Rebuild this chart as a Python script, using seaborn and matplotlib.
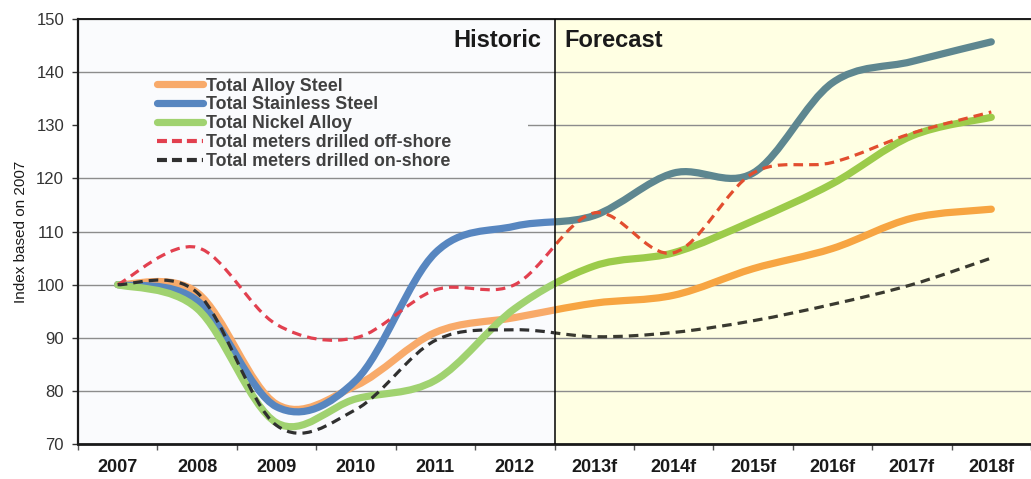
#!/usr/bin/env python3
"""Index of alloy / stainless / nickel demand vs. meters drilled, 2007 = 100."""

import matplotlib

matplotlib.use("Agg")
import matplotlib.pyplot as plt
import numpy as np
import pandas as pd
import seaborn as sns
from matplotlib.lines import Line2D
from matplotlib.patches import PathPatch, Rectangle
from matplotlib.path import Path

YEARS = ["2007", "2008", "2009", "2010", "2011", "2012",
         "2013f", "2014f", "2015f", "2016f", "2017f", "2018f"]
N_HISTORIC = 6

ALLOY_STEEL = [100, 98.5, 77.5, 81, 91, 93.8, 96.5, 98, 103, 106.8, 112.5, 114.2]
STAINLESS_STEEL = [100, 97, 77, 82, 106, 111, 113, 121, 121, 138, 142, 145.7]
NICKEL_ALLOY = [100, 95.5, 74, 78.5, 82, 95.5, 103.5, 106, 112, 119, 128, 131.5]
OFFSHORE = [100, 107, 92.5, 90, 99, 100, 113.5, 106, 121, 123, 128.5, 132.5]
ONSHORE = [100, 98.5, 73.5, 76.5, 89.5, 91.5, 90.2, 91, 93.2, 96.3, 100, 105]

SERIES = [
    ("Total Alloy Steel", ALLOY_STEEL),
    ("Total Stainless Steel", STAINLESS_STEEL),
    ("Total Nickel Alloy", NICKEL_ALLOY),
    ("Total meters drilled off-shore", OFFSHORE),
    ("Total meters drilled on-shore", ONSHORE),
]

# (historic colour, forecast colour, dashed)
STYLES = {
    "Total Alloy Steel": ("#F8AA6A", "#F7A542", False),
    "Total Stainless Steel": ("#5786C0", "#5E8790", False),
    "Total Nickel Alloy": ("#A0D270", "#9CCB4A", False),
    "Total meters drilled off-shore": ("#E2404F", "#E24E2F", True),
    "Total meters drilled on-shore": ("#303030", "#3A3A30", True),
}

HIST_BG = "#FAFBFD"
FORE_BG = "#FFFFE3"


def smooth_path(x, y):
    """Excel-like smoothed line as a cubic Bezier path through the points."""
    pts = np.column_stack([x, y]).astype(float)
    n = len(pts)
    verts = [pts[0]]
    codes = [Path.MOVETO]
    for i in range(n - 1):
        p0 = pts[max(i - 1, 0)]
        p1 = pts[i]
        p2 = pts[i + 1]
        p3 = pts[min(i + 2, n - 1)]
        verts += [p1 + (p2 - p0) / 6, p2 - (p3 - p1) / 6, p2]
        codes += [Path.CURVE4] * 3
    return Path(verts, codes)


def main():
    df = pd.DataFrame(
        [(name, i, v) for name, vals in SERIES for i, v in enumerate(vals)],
        columns=["series", "pos", "value"],
    )

    sns.set_theme(style="white")
    plt.rcParams["font.family"] = ["Liberation Sans", "DejaVu Sans"]

    fig = plt.figure(figsize=(10.31, 4.79), dpi=100)
    ax = fig.add_axes([78 / 1031, 35 / 479, 953 / 1031, 425 / 479])

    ax.set_xlim(-0.5, len(YEARS) - 0.5)
    ax.set_ylim(70, 150)

    # two shaded periods
    ax.axvspan(-0.5, N_HISTORIC - 0.5, color=HIST_BG, zorder=0)
    ax.axvspan(N_HISTORIC - 0.5, len(YEARS) - 0.5, color=FORE_BG, zorder=0)

    ax.set_yticks(range(70, 151, 10))
    ax.yaxis.grid(True, color="#8C8C8C", linewidth=1.0, zorder=1)
    ax.set_axisbelow(True)

    # blank patch behind the legend (hides the 130 gridline there)
    ax.add_patch(Rectangle((-0.5, 120.6), 5.67, 18.8, facecolor=HIST_BG,
                           edgecolor="none", zorder=1.5))

    hist_clip = Rectangle((-1, 0), N_HISTORIC - 0.5 + 1, 300,
                          transform=ax.transData)
    fore_clip = Rectangle((N_HISTORIC - 0.5, 0), 20, 300,
                          transform=ax.transData)

    handles = []
    for name, grp in df.groupby("series", sort=False):
        hist_c, fore_c, dashed = STYLES[name]
        path = smooth_path(grp["pos"].to_numpy(), grp["value"].to_numpy())
        if dashed:
            kw = dict(linewidth=2.3, linestyle=(0, (3.0, 1.9)), capstyle="butt")
        else:
            kw = dict(linewidth=5.2, linestyle="-", capstyle="round")
        for colour, clip in ((hist_c, hist_clip), (fore_c, fore_clip)):
            patch = PathPatch(path, facecolor="none", edgecolor=colour,
                              joinstyle="round", zorder=3, **kw)
            ax.add_patch(patch)
            patch.set_clip_path(clip)
        handles.append(Line2D([], [], color=hist_c,
                              linewidth=kw["linewidth"] * (1.3 if dashed else 1),
                              linestyle=(0, (2.4, 1.2)) if dashed else "-",
                              solid_capstyle="round", label=name))

    ax.axvline(N_HISTORIC - 0.5, color="black", linewidth=1.1, zorder=4)

    ax.text(5.33, 0.95, "Historic", transform=ax.get_xaxis_transform(),
            ha="right", va="center", fontsize=17, fontweight="bold",
            color="#1A1A1A")
    ax.text(5.63, 0.95, "Forecast", transform=ax.get_xaxis_transform(),
            ha="left", va="center", fontsize=17, fontweight="bold",
            color="#1A1A1A")

    leg = ax.legend(handles=handles, loc="upper left",
                    bbox_to_anchor=(79 / 952, 0.862), frameon=False,
                    fontsize=12.8, handlelength=2.6, handletextpad=0.15,
                    labelspacing=0.1, borderpad=0, borderaxespad=0)
    for t in leg.get_texts():
        t.set_fontweight("bold")
        t.set_color("#404040")

    # category axis: labels at centres, ticks between categories
    ax.set_xticks(range(len(YEARS)))
    ax.set_xticklabels(YEARS, fontsize=13, fontweight="bold")
    ax.set_xticks(np.arange(-0.5, len(YEARS), 1.0), minor=True)
    ax.tick_params(axis="x", which="major", length=0, pad=11, colors="#1A1A1A")
    ax.tick_params(axis="x", which="minor", length=4, width=1.0,
                   direction="out", color="#555555", bottom=True)
    ax.tick_params(axis="y", length=4, width=1.0, direction="out",
                   left=True, labelsize=12, pad=6, colors="#333333")
    ax.set_ylabel("Index based on 2007", fontsize=11, color="#1A1A1A",
                  labelpad=6)

    for side in ("left", "bottom", "top"):
        ax.spines[side].set_visible(True)
        ax.spines[side].set_color("#1A1A1A")
    ax.spines["left"].set_linewidth(1.6)
    ax.spines["bottom"].set_linewidth(2.0)
    ax.spines["top"].set_linewidth(1.4)
    ax.spines["right"].set_visible(False)

    fig.savefig("out.png", dpi=100, facecolor="white")
    plt.close(fig)


if __name__ == "__main__":
    main()
